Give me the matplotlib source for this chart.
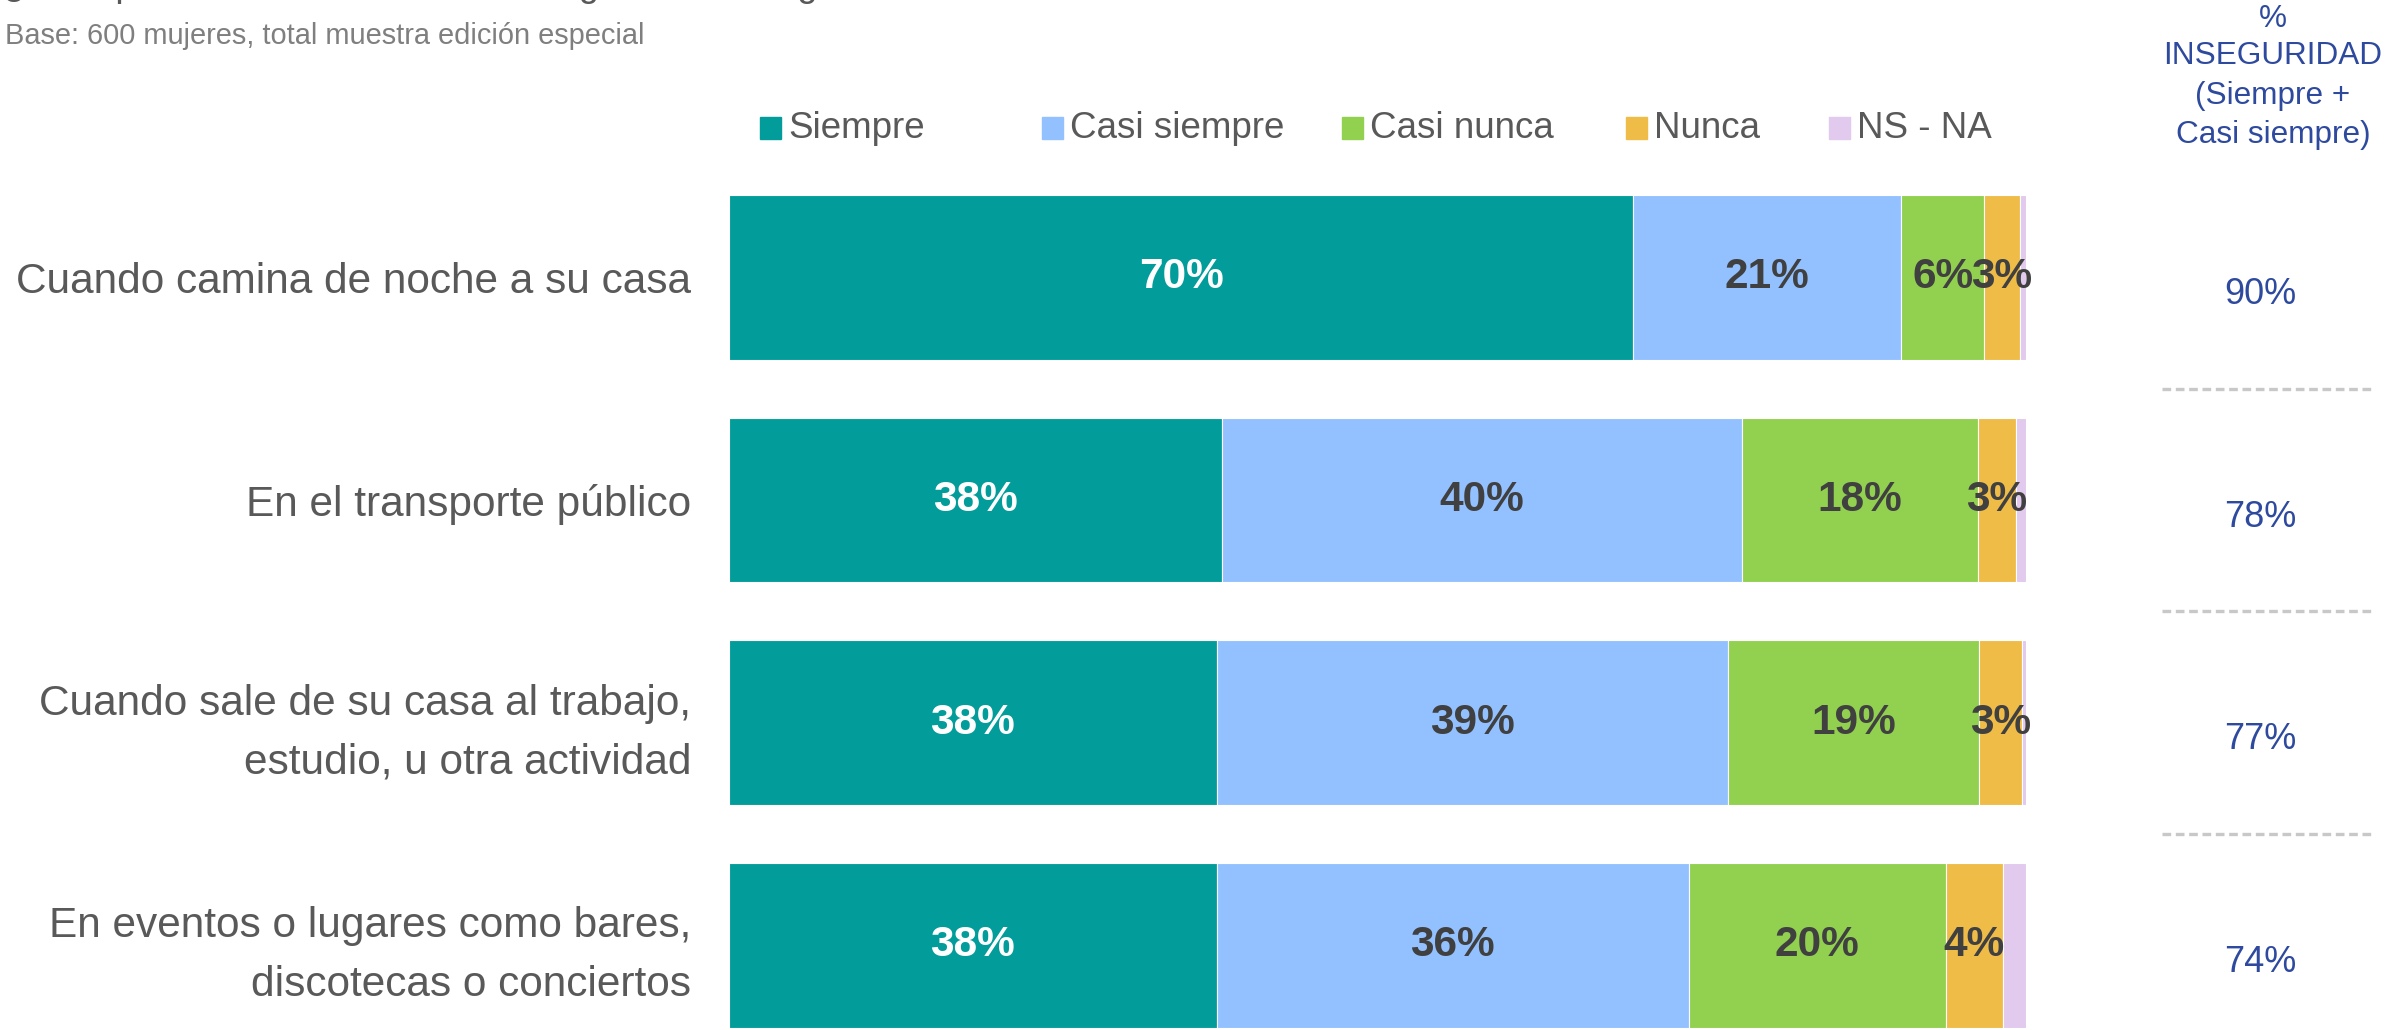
import matplotlib
matplotlib.use("Agg")
from matplotlib import pyplot as plt
from matplotlib.patches import Rectangle
import numpy as np

plt.rcParams['font.family'] = ['Liberation Sans', 'DejaVu Sans']

# data (percent of respondents)
categories = ["Cuando camina de noche a su casa",
              "En el transporte público",
              "Cuando sale de su casa al trabajo,\nestudio, u otra actividad",
              "En eventos o lugares como bares,\ndiscotecas o conciertos"]
series_names = ["Siempre", "Casi siempre", "Casi nunca", "Nunca", "NS - NA"]
siempre      = [69.7, 38.0, 37.6, 37.6]
casi_siempre = [20.7, 40.1, 39.4, 36.4]
casi_nunca   = [6.4, 18.2, 19.4, 19.8]
nunca        = [2.7, 2.9, 3.3, 4.4]
ns_na        = [0.5, 0.8, 0.3, 1.8]

title = "¿Con qué frecuencia se siente insegura en las siguientes situaciones?"
subtitle = "Base: 600 mujeres, total muestra edición especial"
header_lines = ["%", "INSEGURIDAD", "(Siempre +", "Casi siempre)"]

colors = ["#029D9A", "#93C1FF", "#92D050", "#F0BC48", "#E2C9EE"]
label_colors = ["white", "#404040", "#404040", "#404040", "#404040"]
blue = "#2E4A9F"
grey_txt = "#595959"

W, H = 2392, 1030
fig = plt.figure(figsize=(W / 100, H / 100), dpi=100)

# axes geometry in pixels
x0, x1 = 729, 2026
top_px = 166
ax = fig.add_axes([x0 / W, 0, (x1 - x0) / W, (H - top_px) / H])
row_px = 222.7
ax.set_xlim(0, 100)
ax.set_ylim(3 + (H - 945.5) / row_px, -0.5)
ax.axis('off')

values = np.array([siempre, casi_siempre, casi_nunca, nunca, ns_na])
y = np.arange(len(categories))
left = np.zeros(len(categories))
for k, name in enumerate(series_names):
    v = values[k]
    ax.barh(y, v, left=left, height=0.74, color=colors[k], edgecolor='white',
            linewidth=0.8, label=name)
    for i in range(len(y)):
        if v[i] >= 2.5:
            ax.text(left[i] + v[i] / 2, y[i], f"{v[i]:.0f}%", ha='center', va='center',
                    fontsize=30.5, fontweight='bold', color=label_colors[k])
    left += v

# category labels
for i, c in enumerate(categories):
    off = 0.045 if "\n" in c else 0.02
    ax.text(-(x0 - 691) / (x1 - x0) * 100, y[i] + off, c, ha='right', va='center',
            fontsize=30.5, color=grey_txt, linespacing=1.6, clip_on=False)

# inseguridad totals
totals = np.array(siempre) + np.array(casi_siempre)
xt = (2260 - x0) / (x1 - x0) * 100
for i, t in enumerate(totals):
    ax.text(xt, y[i] + 0.077, f"{t:.0f}%", ha='center', va='center',
            fontsize=26, color=blue, clip_on=False)

# dashed separators
xa = (2162 - x0) / (x1 - x0) * 100
xb = (2371 - x0) / (x1 - x0) * 100
for i in range(len(y) - 1):
    ax.plot([xa, xb], [i + 0.5, i + 0.5], color="#C8C8C8", lw=2.4,
            dashes=(2.6, 1.4), clip_on=False, solid_capstyle='butt')

# header of right column
for line, ypx in zip(header_lines, [19, 56, 96, 135]):
    fig.text(2273 / W, 1 - ypx / H, line, ha='center', va='center',
             fontsize=22.7, color=blue)

# title (cut by the top edge) and subtitle
fig.text(3 / W, 1 + 4 / H, title, ha='left', va='baseline', fontsize=26.5, color=grey_txt)
fig.text(5 / W, 1 - 44 / H, subtitle, ha='left', va='baseline', fontsize=20.9, color="#7F7F7F")

# legend, items placed like the original slide
leg_x = [760, 1042, 1342, 1626, 1829]
leg_y = 128
sq = 21
for k, name in enumerate(series_names):
    fig.patches.append(Rectangle((leg_x[k] / W, 1 - (leg_y + sq / 2) / H), sq / W, sq / H,
                                 transform=fig.transFigure, color=colors[k]))
    fig.text((leg_x[k] + sq + 7) / W, 1 - leg_y / H, name, ha='left', va='center',
             fontsize=26.5, color=grey_txt)

fig.savefig("out.png", dpi=100)
